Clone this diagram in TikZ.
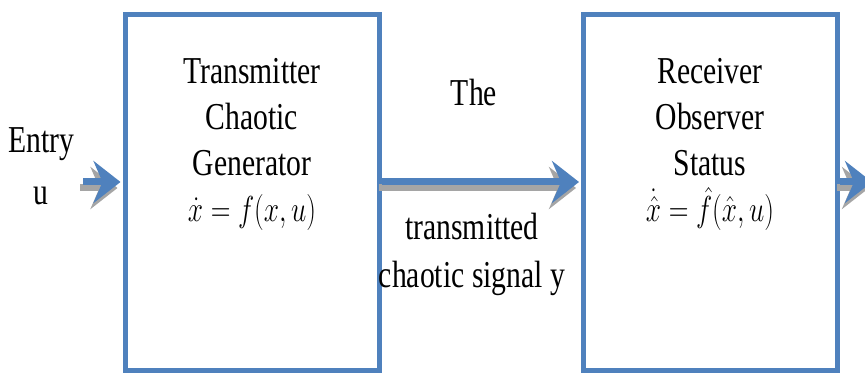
\RequirePackage{fix-cm}
\documentclass[tikz,border=0pt]{standalone}
\usepackage{fontspec}
\setmainfont{Liberation Serif}[FakeStretch=0.78]
\usetikzlibrary{arrows.meta}

\definecolor{boxblue}{HTML}{4F81BD}
\definecolor{shadegray}{HTML}{A5A5A5}

\newcommand{\narroweq}[1]{\scalebox{0.72}[0.95]{#1}}

\tikzset{
    block/.style={draw=boxblue, line width=5pt, minimum width=254pt, minimum height=356pt, inner sep=0pt},
    lbl/.style={align=center, inner sep=0pt, font=\fontsize{38}{46}\selectfont},
    flow/.style={draw=boxblue, line width=7pt, shorten >=2pt, -{Stealth[length=27pt,width=42pt,inset=9pt]}},
    flowshade/.style={flow, draw=shadegray, transform canvas={shift={(-3pt,-6pt)}}}
}

\begin{document}
\begin{tikzpicture}[x=1pt,y=1pt]
    \useasboundingbox (0,0) rectangle (865,374);

    \node[block] (tx) at (252,181) {};
    \node[block] (rx) at (710.5,181) {};

    % base = baseline of the last line
    \node[lbl, anchor=base] (txtext) at (252,152) {Transmitter\\Chaotic\\Generator\\\narroweq{$\dot{x} = f(x,u)$}};
    \node[lbl, anchor=base] (rxtext) at (710,152) {Receiver\\Observer\\Status\\\narroweq{$\dot{\hat{x}} = \hat{f}(\hat{x},u)$}};

    \node[lbl, anchor=base, font=\fontsize{38}{52}\selectfont] (entry) at (41,169) {Entry\\u};
    \node[lbl, anchor=base] (the) at (474,268) {The};
    \node[lbl, anchor=base, font=\fontsize{38}{48}\selectfont] (signal) at (472,86) {transmitted\\chaotic signal y};

    \coordinate (lvl) at (0,192);
    \coordinate (start) at (83,192);
    \coordinate (out) at (874,192);

    % shadows first
    \draw[flowshade] (start) -- (tx.west |- lvl);
    \draw[flowshade] (tx.east |- lvl) -- (rx.west |- lvl);
    \draw[flowshade] (rx.east |- lvl) -- (out);

    \draw[flow] (start) -- (tx.west |- lvl);
    \draw[flow] (tx.east |- lvl) -- (rx.west |- lvl);
    \draw[flow] (rx.east |- lvl) -- (out);

\end{tikzpicture}
\end{document}
